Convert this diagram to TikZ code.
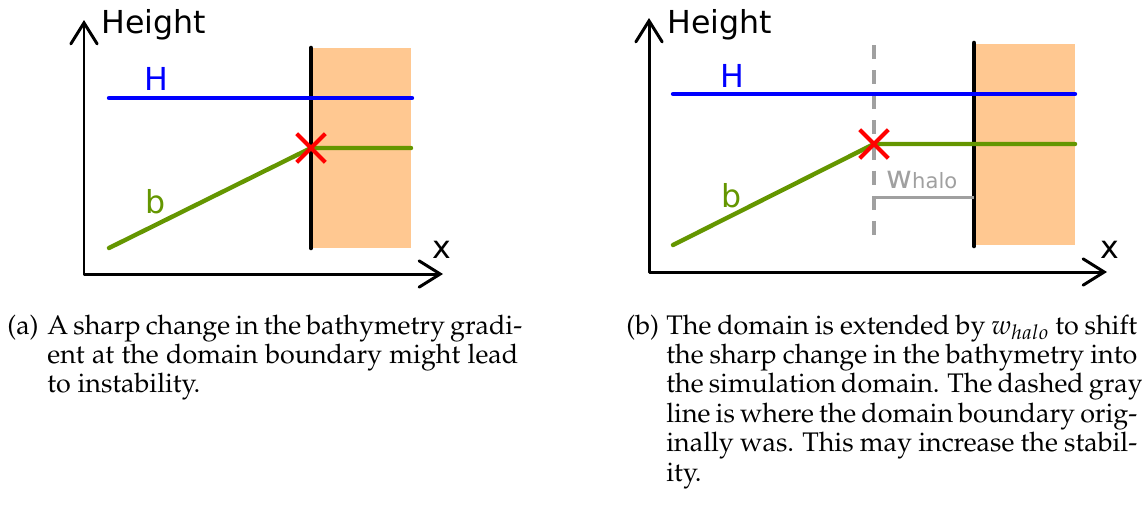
\documentclass[tikz,border=0pt]{standalone}
\usepackage[T1]{fontenc}
\usepackage{mathpazo}
\usepackage[no-math]{fontspec}
\newfontfamily\labelsans{DejaVu Sans}
\newcommand\capfont{\fontencoding{T1}\fontfamily{ppl}\fontsize{15.3}{15.9}\selectfont}
\newcommand\capline[1]{\makebox[268pt][s]{#1}}
\newcommand\captag[1]{\makebox[22.8pt][l]{#1}}
\renewcommand\arraystretch{1.055}
\usetikzlibrary{arrows.meta,shapes.misc}

\definecolor{bathgreen}{RGB}{100,150,0}
\definecolor{halopeach}{RGB}{255,200,145}
\definecolor{halogray}{RGB}{160,160,160}

\begin{document}
\begin{tikzpicture}[x=0.02cm,y=-0.02cm,
    axis/.style={line width=1.7pt,line join=round,{Straight Barb[length=12pt,width=15pt,line cap=round]}-{Straight Barb[length=12pt,width=15pt,line cap=round]}},
    lbl/.style={inner sep=0pt,font=\labelsans\fontsize{18}{20}\selectfont},
    hline/.style={blue,line width=2.5pt,line cap=round},
    bline/.style={bathgreen,line width=2.5pt,line cap=round,line join=round},
    boundary/.style={line width=2.6pt,line cap=round},
    oldboundary/.style={halogray,line width=2.3pt,dash pattern=on 8pt off 6.3pt},
    crossmark/.style={cross out,draw=red,line width=2.3pt,inner sep=0pt,minimum size=14pt},
    capt/.style={inner sep=0pt,anchor=base west,font=\capfont}]
  \useasboundingbox (0,0) rectangle (1142,512);

  % (a) boundary right at the kink
  \fill[halopeach] (311,48) rectangle (411,248);
  \draw[axis] (84,20) -- (84,274) -- (443,274);
  \draw[boundary] (311,48) -- (311,248);
  \draw[hline] (109,98) -- (412,98);
  \draw[bline] (109,248) -- (311,148) -- (411,148);
  \node[crossmark] (kinka) at (311,148) {};
  \node[lbl,anchor=base west] (heighta) at (101,33) {Height};
  \node[lbl,anchor=base west] (xa) at (432,258) {x};
  \node[lbl,anchor=base west,blue] (Ha) at (144,90) {H};
  \node[lbl,anchor=base west,bathgreen] (ba) at (145,213) {b};

  % (b) boundary moved out by the halo
  \fill[halopeach] (974,44) rectangle (1075,245);
  \draw[axis] (649,18) -- (649,272) -- (1107,272);
  \draw[boundary] (974,43) -- (974,246);
  \draw[oldboundary] (874,45) -- (874,243);
  \draw[hline] (673,94) -- (1075,94);
  \draw[bline] (673,245) -- (874,144) -- (1075,144);
  \node[crossmark] (kinkb) at (874,144) {};
  \draw[halogray,line width=1.7pt] (874,197) -- (974,197);
  \node[lbl,anchor=base west] (heightb) at (667,33) {Height};
  \node[lbl,anchor=base west] (xb) at (1100,258) {x};
  \node[lbl,anchor=base west,blue] (Hb) at (720,87) {H};
  \node[lbl,anchor=base west,bathgreen] (bb) at (721,207) {b};
  \node[lbl,anchor=base west,halogray] (whalo) at (886,188) {w{\fontsize{12}{13}\selectfont halo}};

  % captions
  \node[capt] (capa) at (7,334) {\begin{tabular}[t]{@{}l@{}l@{}}
    \captag{(a)} & \capline{A sharp change in the bathymetry gradi-}\\
    & \capline{ent at the domain boundary might lead}\\
    & to instability.
  \end{tabular}};
  \node[capt] (capb) at (626,334) {\begin{tabular}[t]{@{}l@{}l@{}}
    \captag{(b)} & \capline{The domain is extended by $w_{halo}$ to shift}\\
    & \capline{the sharp change in the bathymetry into}\\
    & \capline{the simulation domain. The dashed gray}\\
    & \capline{line is where the domain boundary orig-}\\
    & \capline{inally was. This may increase the stabil-}\\
    & ity.
  \end{tabular}};
\end{tikzpicture}
\end{document}
